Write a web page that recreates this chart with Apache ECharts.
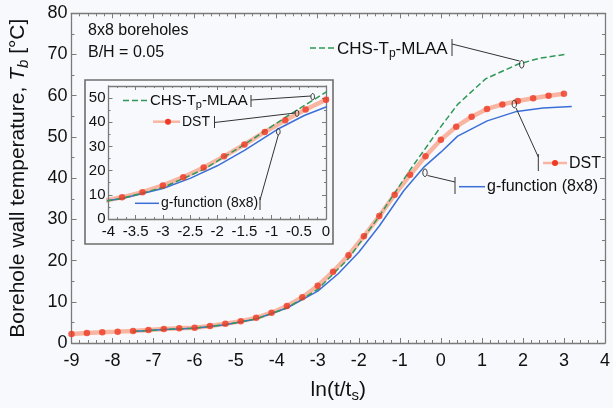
<!DOCTYPE html>
<html><head><meta charset="utf-8">
<script src="https://cdn.jsdelivr.net/npm/echarts@6/dist/echarts.min.js"></script>
<style>html,body{margin:0;padding:0;background:#f8f9fc}#c{width:613px;height:408px}</style>
</head><body><div id="c"></div>
<script>
// ---- data ----
const dstX = [-9,-8.625,-8.25,-7.875,-7.5,-7.125,-6.75,-6.375,-6,-5.625,-5.25,-4.875,-4.5,-4.125,-3.75,-3.375,-3,-2.625,-2.25,-1.875,-1.5,-1.125,-0.75,-0.375,0,0.375,0.75,1.125,1.5,1.875,2.25,2.625,3];
const dstY = [2.2,2.45,2.6,2.76,2.93,3.17,3.4,3.55,3.72,4.12,4.68,5.3,6.1,7.35,8.97,11.1,13.9,17.3,21.3,25.9,30.8,36.0,40.8,45.3,49.3,52.5,54.9,56.8,57.9,58.7,59.4,60.0,60.5];
const chsX = [-7.5,-6.75,-6,-5.25,-4.5,-3.75,-3,-2.25,-1.5,-0.75,0,0.41,1.09,1.89,2.41,3.01];
const chsY = [2.8,3.25,3.6,4.45,5.85,8.5,13.0,20.5,30.8,42.0,52.5,57.9,64.1,67.7,69.1,70.0];
const gfX = [-7.5,-6.75,-6,-5.25,-4.5,-3.75,-3,-2.5,-2,-1.5,-0.9,-0.4,0,0.41,1.13,1.85,2.49,3.19];
const gfY = [2.8,3.25,3.6,4.45,5.85,8.5,12.6,16.8,22.0,28.4,37.0,42.8,46.3,50.2,53.9,56.2,57.0,57.4];
const mainXTicks = {min:-9, max:4, interval:1};
const mainYTicks = {min:0, max:80, interval:10};
const insetXTicks = {min:-4, max:0, interval:0.5};
const insetYTicks = {min:0, max:55, interval:10, labelMax:50};

const zip = (xs, ys) => xs.map((x, i) => [x, ys[i]]);
const FONT = '"Liberation Sans", Arial, Helvetica, sans-serif';
const BG = '#f8f9fc';
const AX = '#7a7a7a';
const TXT = '#111111';
const C_SALMON = '#f8b6a2', C_RED = '#ee3a24', C_GREEN = '#2f9857', C_BLUE = '#3a6fd8';

function axisBase(t, grid, pos, showLabel, fs, margin, minorSplit, tickLen) {
  return {
    type: 'value', gridIndex: grid, position: pos,
    min: t.min, max: t.max, interval: t.interval,
    axisLine: {show: true, onZero: false, lineStyle: {color: AX, width: 1.3}},
    axisTick: {show: true, inside: true, length: tickLen, lineStyle: {color: AX, width: 1}},
    minorTick: {show: true, splitNumber: minorSplit, length: Math.round(tickLen * 0.55), lineStyle: {color: AX, width: 1}},
    splitLine: {show: false},
    axisLabel: {show: showLabel, fontSize: fs, color: TXT, fontFamily: FONT, margin: margin,
      formatter: v => (t.labelMax !== undefined && v > t.labelMax) ? '' : String(v)},
    z: 3
  };
}

const chart = echarts.init(document.getElementById('c'), null, {renderer: 'canvas'});

const xMain = axisBase(mainXTicks, 0, 'bottom', true, 18, 9, 5, 5);
xMain.name = '{a|ln(t/t}{s|s}{a|)}';
xMain.nameLocation = 'middle';
xMain.nameGap = 34;
xMain.nameTextStyle = {rich: {
  a: {fontSize: 21, fontFamily: FONT, color: TXT},
  s: {fontSize: 15, fontFamily: FONT, color: TXT, padding: [11, 0, 0, 0]}
}};
const yMain = axisBase(mainYTicks, 0, 'left', true, 18, 4, 2, 5);
yMain.name = '{a|Borehole wall temperature, }{i|T}{s|b}{a| [°C]}';
yMain.nameLocation = 'middle';
yMain.nameGap = 40;
yMain.nameTextStyle = {rich: {
  a: {fontSize: 21, fontFamily: FONT, color: TXT},
  i: {fontSize: 21, fontFamily: FONT, color: TXT, fontStyle: 'italic'},
  s: {fontSize: 15, fontFamily: FONT, color: TXT, fontStyle: 'italic', padding: [11, 0, 0, 0]}
}};

const option = {
  animation: false,
  backgroundColor: BG,
  grid: [
    {left: 67, right: 3.3, top: 13.3, bottom: 60.5},
    {left: 108.5, right: 287, top: 86, bottom: 189}
  ],
  xAxis: [
    xMain,
    axisBase(mainXTicks, 0, 'top', false, 18, 8, 5, 5),
    axisBase(insetXTicks, 1, 'bottom', true, 15, 5, 3, 4),
    axisBase(insetXTicks, 1, 'top', false, 15, 5, 3, 4)
  ],
  yAxis: [
    yMain,
    axisBase(mainYTicks, 0, 'right', false, 18, 4, 2, 5),
    axisBase(insetYTicks, 1, 'left', true, 15, 3, 2, 4),
    axisBase(insetYTicks, 1, 'right', false, 15, 3, 2, 4)
  ],
  series: []
};

[[0, 0], [2, 2]].forEach(([xi, yi]) => {
  option.series.push(
    {type: 'line', xAxisIndex: xi, yAxisIndex: yi, data: zip(dstX, dstY), symbol: 'none', clip: true,
     lineStyle: {color: C_SALMON, width: 4.5}, z: 2},
    {type: 'line', xAxisIndex: xi, yAxisIndex: yi, data: zip(gfX, gfY), symbol: 'none', clip: true,
     lineStyle: {color: C_BLUE, width: 1.5}, z: 3},
    {type: 'line', xAxisIndex: xi, yAxisIndex: yi, data: zip(chsX, chsY), symbol: 'none', clip: true,
     lineStyle: {color: C_GREEN, width: 1.5, type: [6, 3]}, z: 3},
    {type: 'scatter', xAxisIndex: xi, yAxisIndex: yi, data: zip(dstX, dstY), symbol: 'circle', symbolSize: 6.5, clip: true,
     itemStyle: {color: C_RED}, z: 4}
  );
});

// ---- annotations ----
const g = [];
function line(x1, y1, x2, y2, color, width, dash) {
  g.push({type: 'line', z: 50, shape: {x1, y1, x2, y2},
    style: {stroke: color || '#333', lineWidth: width || 1, lineDash: dash || null}});
}
function ell(cx, cy, rx, ry) {
  g.push({type: 'ellipse', z: 51, shape: {cx, cy, rx, ry}, style: {fill: 'none', stroke: '#333', lineWidth: 1}});
}
function dot(cx, cy, r) {
  g.push({type: 'circle', z: 51, shape: {cx, cy, r}, style: {fill: C_RED}});
}
function text(x, y, t, fs, rich) {
  g.push({type: 'text', z: 52, x, y, style: {text: t, fontSize: fs, fontFamily: FONT, fill: TXT,
    verticalAlign: 'middle', align: 'left', rich: rich || undefined}});
}
function subRich(fs) {
  return {
    a: {fontSize: fs, fontFamily: FONT, fill: TXT, color: TXT},
    s: {fontSize: Math.round(fs * 0.72), fontFamily: FONT, fill: TXT, color: TXT, padding: [Math.round(fs * 0.55), 0, 0, 0]}
  };
}

// inset frame
g.push({type: 'rect', z: 0, shape: {x: 85, y: 80, width: 248, height: 164},
  style: {fill: BG, stroke: '#6e6e6e', lineWidth: 1.6}});

// header texts
text(88, 31, '8x8 boreholes', 16);
text(88, 53, 'B/H = 0.05', 16);

// main: CHS-Tp-MLAA
line(310, 48, 335, 48, C_GREEN, 1.5, [6, 3]);
text(337, 49, '{a|CHS-T}{s|p}{a|-MLAA}', 17, subRich(17));
line(452, 39, 452, 56, '#333', 1);
line(452, 44, 519.5, 61);
ell(521.7, 64.3, 2.2, 3.8);

// main: DST
line(538.3, 154, 538.3, 171, '#333', 1);
line(543, 163, 567, 163, C_SALMON, 2.5);
dot(555, 163, 3);
text(569, 163.5, 'DST', 16);
line(538.3, 157, 516, 108);
ell(514.3, 104, 2.2, 3.8);

// main: g-function
line(455, 177, 455, 194, '#333', 1);
line(459, 186.7, 485, 186.7, C_BLUE, 1.5);
text(487, 187, 'g-function (8x8)', 16);
line(455, 182, 427.5, 175.5);
ell(425, 172.7, 2.2, 3.8);

// inset: CHS
line(123, 100.5, 148, 100.5, C_GREEN, 1.5, [6, 3]);
text(150, 101, '{a|CHS-T}{s|p}{a|-MLAA}', 15, subRich(15));
line(251, 95, 251, 107, '#333', 1);
line(251, 100, 311, 96);
ell(312.7, 96.7, 1.8, 3.2);

// inset: DST
line(153, 121.7, 180, 121.7, C_SALMON, 2.5);
dot(168, 121.7, 3);
text(182, 122, 'DST', 14);
line(214.5, 116, 214.5, 128, '#333', 1);
line(214.5, 122.5, 295, 113);
ell(297, 113.3, 1.8, 3.2);

// inset: g-function
line(135, 203.3, 159, 203.3, C_BLUE, 1.5);
text(161, 203.5, 'g-function (8x8)', 14);
line(260, 197, 260, 210, '#333', 1);
line(260, 200, 278.3, 135);
ell(278.3, 131.7, 1.8, 3.2);

option.graphic = {elements: g};
chart.setOption(option);
</script></body></html>
